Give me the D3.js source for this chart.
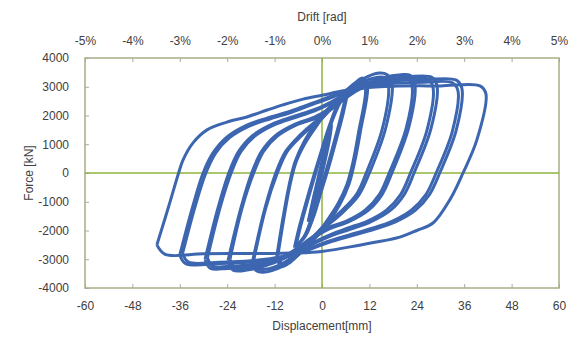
<!DOCTYPE html>
<html>
  <head>
    <script src="https://d3js.org/d3.v7.min.js"></script>
    <style>
      body { margin: 0; background: #fff; }
      text { font-family: "Liberation Sans", Arial, sans-serif; fill: #404040; }
    </style>
  </head>
  <body>
    <div id="chart"></div>
    <script>
      // tick values
      const dispTicks = [-60, -48, -36, -24, -12, 0, 12, 24, 36, 48, 60];
      const driftTicks = [-5, -4, -3, -2, -1, 0, 1, 2, 3, 4, 5]; // percent
      const forceTicks = [-4000, -3000, -2000, -1000, 0, 1000, 2000, 3000, 4000];

      // hysteresis cycles, [displacement mm, force kN]
      const cycle3a = [[-3.5,-1700],[-2.4,-1000],[-1.2,-300],[0,400],[1.3,1100],[2.4,1700],[1.5,1000],[0.3,250],[-1,-500],[-2.2,-1150],[-3.5,-1700]];
      const cycle3b = [[-3.3,-1650],[-2.2,-950],[-1,-250],[0.2,450],[1.4,1100],[2.5,1650],[1.6,950],[0.4,200],[-0.8,-500],[-2,-1150],[-3.3,-1650]];
      const cycle6a = [[-7,-2600],[-5.8,-1900],[-4,-1000],[-2,-50],[0,850],[2,1700],[4,2400],[6.2,2900],
        [5.2,2200],[3.5,1300],[1.5,300],[-0.5,-600],[-2.5,-1500],[-4.5,-2200],[-7,-2600]];
      const cycle6b = [[-6.6,-2550],[-5.4,-1850],[-3.6,-950],[-1.6,0],[0.4,900],[2.4,1750],[4.4,2400],[6.4,2850],
        [5.5,2150],[3.8,1250],[1.8,250],[-0.2,-650],[-2.2,-1550],[-4.2,-2200],[-6.6,-2550]];
      const cycle12a = [[-11.5,-2950],[-9.8,-1500],[-8.3,-400],[-6.8,400],[-4.5,1100],[-2,1650],[0,2000],[3,2450],[6,2850],[8.5,3150],[10.3,3300],[11.5,3050],
        [9.8,1500],[8.3,400],[6.8,-400],[4.5,-1100],[2,-1650],[0,-2000],[-3,-2450],[-6,-2850],[-8.5,-3150],[-10.3,-3250],[-11.5,-2950]];
      const cycle12b = [[-11.2,-2900],[-9.5,-1450],[-8,-350],[-6.5,400],[-4.2,1050],[-1.8,1550],[0,1900],[3,2350],[6,2750],[8.3,3050],[10,3200],[11,2950],
        [9.3,1450],[7.8,350],[6.3,-400],[4.1,-1050],[1.8,-1550],[0,-1900],[-3,-2350],[-6,-2750],[-8.5,-3050],[-10,-3150],[-11.2,-2900]];
      const cycle18a = [[-17.7,-3150],[-14.5,-1250],[-11.7,0],[-9.2,750],[-5.7,1300],[-2,1750],[0,1950],[3,2400],[6,2850],[10,3250],[14.5,3480],[16.5,3420],[17.7,3150],
        [16.2,1600],[12,0],[9.4,-750],[5.8,-1300],[2,-1750],[0,-1950],[-3,-2400],[-6,-2850],[-10,-3250],[-15,-3450],[-16.6,-3400],[-17.7,-3150]];
      const cycle18b = [[-17.3,-3050],[-14.2,-1200],[-11.3,0],[-8.8,750],[-5.3,1280],[-1.8,1700],[0,1900],[3,2350],[6,2750],[10,3150],[14,3330],[15.8,3320],[16.8,3050],
        [15.3,1550],[11.2,0],[8.7,-750],[5.2,-1280],[1.8,-1700],[0,-1900],[-3,-2350],[-6,-2750],[-10,-3150],[-14.5,-3350],[-16.2,-3330],[-17.3,-3050]];
      const cycle24a = [[-23.8,-3050],[-20.6,-1250],[-17.8,0],[-15.3,750],[-11.8,1300],[-6.8,1700],[-1.8,1950],[2,2250],[6,2700],[10,3050],[15,3300],[20,3420],[22.3,3400],[23.5,3100],
        [22,1600],[17.7,0],[15.2,-750],[11.7,-1300],[6.7,-1700],[1.7,-1950],[-2,-2250],[-6,-2650],[-10,-3000],[-15,-3250],[-20,-3400],[-22.5,-3380],[-23.8,-3050]];
      const cycle24b = [[-23.3,-3000],[-20.2,-1200],[-17.3,0],[-14.8,750],[-11.3,1280],[-6.3,1680],[-1.3,1920],[2,2180],[6,2600],[10,2950],[15,3200],[20,3330],[21.7,3310],[22.8,3030],
        [21.3,1550],[17,0],[14.5,-750],[11,-1280],[6,-1680],[1,-1920],[-2,-2180],[-6,-2580],[-10,-2930],[-15,-3180],[-20,-3320],[-22,-3300],[-23.3,-3000]];
      const cycle30a = [[-29.6,-3000],[-26.4,-1250],[-23.6,0],[-21.1,750],[-17.6,1300],[-12.6,1700],[-7.6,1950],[-2,2200],[2,2450],[6,2750],[10,3000],[16,3250],[22,3350],[27.8,3330],[29.1,3050],
        [27.6,1550],[23.3,0],[20.8,-750],[17.3,-1300],[12.3,-1700],[7.3,-1950],[2,-2200],[-2,-2450],[-6,-2750],[-12,-3050],[-18,-3250],[-24,-3320],[-28.3,-3310],[-29.6,-3000]];
      const cycle30b = [[-29,-2950],[-25.8,-1200],[-23,0],[-20.5,750],[-17,1280],[-12,1680],[-7,1920],[-2,2150],[2,2400],[6,2700],[10,2950],[16,3180],[22,3280],[26.8,3260],[28.1,2980],
        [26.6,1500],[22.4,0],[19.9,-750],[16.4,-1280],[11.4,-1680],[6.4,-1920],[2,-2150],[-2,-2400],[-6,-2700],[-12,-3000],[-18,-3180],[-24,-3250],[-27.7,-3240],[-29,-2950]];
      const cycle36a = [[-36,-2850],[-32.9,-1250],[-30.1,0],[-27.6,700],[-24.1,1250],[-19,1670],[-13.9,1910],[-8,2150],[-3,2400],[0,2550],[5,2800],[10,3000],[18,3200],[26,3250],[34,3230],[35.4,2950],
        [34,1500],[29.8,0],[27.2,-750],[23.6,-1300],[18.6,-1700],[13.4,-1950],[7,-2200],[2,-2400],[0,-2500],[-5,-2750],[-10,-2950],[-18,-3100],[-26,-3150],[-34.5,-3150],[-36,-2850]];
      const cycle36b = [[-35.3,-2800],[-32.2,-1200],[-29.4,0],[-26.9,700],[-23.4,1230],[-18.3,1640],[-13.2,1880],[-7.5,2120],[-2.5,2380],[0,2500],[5,2750],[10,2950],[18,3120],[26,3160],[33,3140],[34.4,2870],
        [33,1450],[28.9,0],[26.3,-750],[22.7,-1280],[17.7,-1680],[12.5,-1930],[6.5,-2170],[1.5,-2380],[0,-2460],[-5,-2700],[-10,-2900],[-18,-3050],[-26,-3100],[-33.8,-3100],[-35.3,-2800]];
      const cycle42 = [[-41.8,-2500],[-38.9,-1200],[-36.3,0],[-35.2,450],[-32.7,1040],[-29.1,1500],[-24.1,1770],[-19,1950],[-13.9,2190],[-9.9,2370],[-4.8,2570],[0.3,2710],[5,2850],[10,2950],[18,3020],[30,3030],[40,3030],[41.5,2750],
        [39.2,1150],[35.7,0],[32.5,-900],[28.1,-1740],[24,-2000],[19.7,-2230],[13,-2420],[7.1,-2570],[-1.3,-2750],[-10,-2790],[-20,-2800],[-30,-2810],[-39.7,-2830],[-41.8,-2500]];

      const cycles = [cycle3a, cycle3b, cycle6a, cycle6b, cycle12a, cycle12b, cycle18a, cycle18b,
        cycle24a, cycle24b, cycle30a, cycle30b, cycle36a, cycle36b, cycle42];

      const W = 584, H = 338;
      const plot = { left: 85, right: 559, top: 58, bottom: 288 };

      const svg = d3.select("#chart").append("svg").attr("width", W).attr("height", H);

      const x = d3.scaleLinear().domain([-60, 60]).range([plot.left, plot.right]);
      const xDrift = d3.scaleLinear().domain([-5, 5]).range([plot.left, plot.right]);
      const y = d3.scaleLinear().domain([-4000, 4000]).range([plot.bottom, plot.top]);

      // plot frame
      svg.append("rect")
        .attr("x", plot.left).attr("y", plot.top)
        .attr("width", plot.right - plot.left).attr("height", plot.bottom - plot.top)
        .attr("fill", "none").attr("stroke", "#a6af86").attr("stroke-width", 1.5);

      // axes with ticks pointing into the plot
      function styleAxis(g) {
        g.select(".domain").remove();
        g.selectAll(".tick line").attr("stroke", "#a9a9a0");
        g.selectAll(".tick text").attr("fill", "#404040").style("font-size", "12px")
          .style("font-family", '"Liberation Sans", Arial, sans-serif');
      }

      svg.append("g").attr("transform", `translate(0,${plot.bottom})`)
        .call(d3.axisBottom(x).tickValues(dispTicks).tickSize(-4).tickPadding(13).tickFormat(d => String(d)))
        .call(styleAxis);

      svg.append("g").attr("transform", `translate(0,${plot.top})`)
        .call(d3.axisTop(xDrift).tickValues(driftTicks).tickSize(-4).tickPadding(13).tickFormat(d => d + "%"))
        .call(styleAxis);

      svg.append("g").attr("transform", `translate(${plot.left},0)`)
        .call(d3.axisLeft(y).tickValues(forceTicks).tickSize(-4).tickPadding(16).tickFormat(d => String(d)))
        .call(styleAxis);

      // zero lines
      svg.append("line")
        .attr("x1", plot.left).attr("x2", plot.right)
        .attr("y1", y(0)).attr("y2", y(0))
        .attr("stroke", "#8fb43e").attr("stroke-width", 1.5);
      svg.append("line")
        .attr("x1", x(0)).attr("x2", x(0))
        .attr("y1", plot.top).attr("y2", plot.bottom)
        .attr("stroke", "#8fb43e").attr("stroke-width", 1.5);

      // loops
      const line = d3.line()
        .x(d => x(d[0]))
        .y(d => y(d[1]))
        .curve(d3.curveCatmullRom.alpha(0.5));

      svg.append("g").selectAll("path")
        .data(cycles)
        .join("path")
        .attr("d", line)
        .attr("fill", "none")
        .attr("stroke", "#3d66b1")
        .attr("stroke-width", 3)
        .attr("stroke-linejoin", "round");

      // axis titles
      svg.append("text")
        .attr("x", x(0)).attr("y", 21)
        .attr("text-anchor", "middle").style("font-size", "12px")
        .text("Drift [rad]");

      svg.append("text")
        .attr("x", x(0)).attr("y", 330)
        .attr("text-anchor", "middle").style("font-size", "12px")
        .text("Displacement[mm]");

      svg.append("text")
        .attr("transform", `translate(33,${y(0)}) rotate(-90)`)
        .attr("text-anchor", "middle").style("font-size", "12px")
        .text("Force [kN]");
    </script>
  </body>
</html>
